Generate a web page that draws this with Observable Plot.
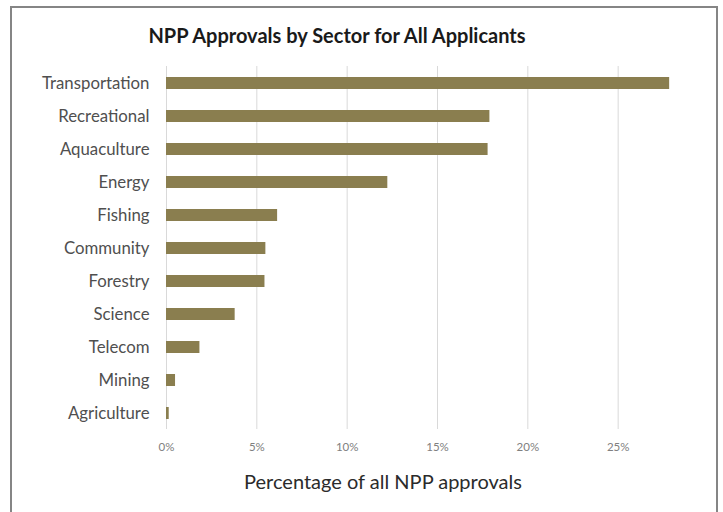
<!DOCTYPE html>
<html>
<head>
<meta charset="utf-8">
<script src="https://cdn.jsdelivr.net/npm/d3@7"></script>
<script src="https://cdn.jsdelivr.net/npm/@observablehq/plot@0.6"></script>
<style>
  html, body { margin: 0; padding: 0; background: #fff; }
  #wrap { position: relative; width: 723px; height: 512px; overflow: hidden; background: #fff; }
  #plot { position: absolute; left: 0; top: 0; }
  .frame { position: absolute; left: 10px; top: 6px; width: 704px; height: 506px; border: 2px solid #858585; box-sizing: content-box; pointer-events: none; }
  .title { position: absolute; left: 0; width: 674px; top: 23px; text-align: center; font: bold 20px Lato, sans-serif; color: #1a1a1a; line-height: 24px; white-space: nowrap; }
  .xlabel { position: absolute; left: 383px; top: 469px; transform: translateX(-50%); font: 20px Lato, sans-serif; color: #2b2b2b; line-height: 24px; white-space: nowrap; }
</style>
</head>
<body>
<div id="wrap">
  <div id="plot"></div>
  <div class="title">NPP Approvals by Sector for All Applicants</div>
  <div class="xlabel">Percentage of all NPP approvals</div>
  <div class="frame"></div>
</div>
<script>
const sectors = ["Transportation", "Recreational", "Aquaculture", "Energy", "Fishing", "Community", "Forestry", "Science", "Telecom", "Mining", "Agriculture"];
const shares = [27.85, 17.9, 17.8, 12.25, 6.15, 5.5, 5.45, 3.8, 1.85, 0.5, 0.15];
const xTicks = [0, 5, 10, 15, 20, 25];

const data = sectors.map((s, i) => ({sector: s, share: shares[i]}));

const chart = Plot.plot({
  width: 723,
  height: 512,
  marginTop: 66,
  marginBottom: 83,
  marginLeft: 166,
  marginRight: 15,
  style: {fontFamily: "Lato, sans-serif", background: "transparent"},
  x: {domain: [0, 30]},
  y: {domain: sectors, paddingInner: 0.64, paddingOuter: 0.32},
  marks: [
    Plot.gridX(xTicks, {stroke: "#d9d9d9", strokeOpacity: 1, strokeWidth: 1}),
    Plot.barX(data, {x: "share", y: "sector", fill: "#8a7e4f"}),
    Plot.axisX(xTicks, {tickSize: 0, tickPadding: 13, tickFormat: d => d + "%", fontSize: 11.5, color: "#808080", label: null}),
    Plot.axisY({tickSize: 0, tickPadding: 17, fontSize: 16.8, color: "#4f4f4f", label: null})
  ]
});
document.getElementById("plot").appendChild(chart);
</script>
</body>
</html>
